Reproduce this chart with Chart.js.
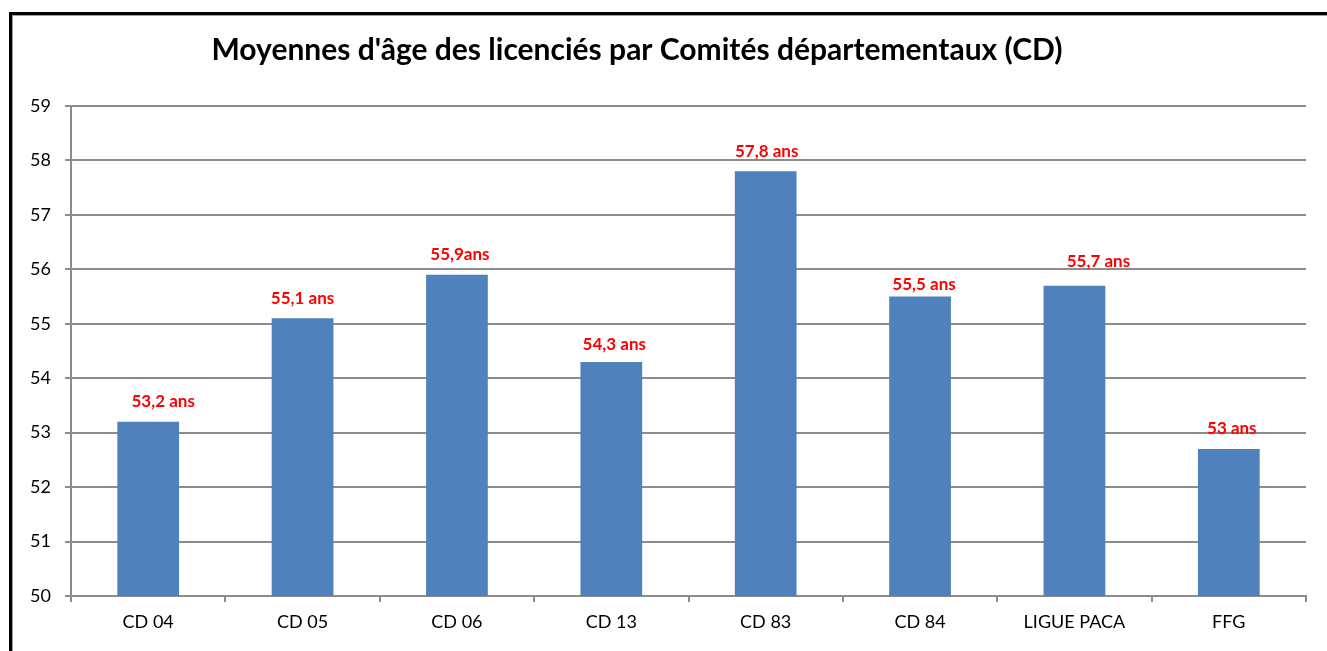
<!DOCTYPE html>
<html>
<head>
<meta charset="utf-8">
<script src="https://cdn.jsdelivr.net/npm/chart.js@4.4.0/dist/chart.umd.min.js"></script>
<style>
  html, body { margin: 0; padding: 0; background: #fff; overflow: hidden; }
  #frame {
    position: absolute; left: 9px; top: 12px; width: 1400px; height: 700px;
    border: 3px solid #000; box-sizing: border-box;
  }
  #frame div { position: absolute; left: 0; top: 0; right: 0; bottom: 0; border: 1px solid #a0a0a0; }
  #wrap { position: absolute; left: 0; top: 0; width: 1327px; height: 651px; }
</style>
</head>
<body>
<div id="frame"><div></div></div>
<div id="wrap"><canvas id="ageChart" width="1327" height="651"></canvas></div>
<script>
// categories and values
const comites = ['CD 04', 'CD 05', 'CD 06', 'CD 13', 'CD 83', 'CD 84', 'LIGUE PACA', 'FFG'];
const moyennes = [53.2, 55.1, 55.9, 54.3, 57.8, 55.5, 55.7, 52.7];
const etiquettes = ['53,2 ans', '55,1 ans', '55,9ans', '54,3 ans', '57,8 ans', '55,5 ans', '55,7 ans', '53 ans'];
const yTicks = [50, 51, 52, 53, 54, 55, 56, 57, 58, 59];

const titre = "Moyennes d'âge des licenciés par Comités départementaux (CD)";
const police = 'Lato, "Open Sans", sans-serif';

// small nudges so the red labels sit where Excel put them
const decalX = [15, 0, 3, 3, 1, 4, 24, 3];
const decalY = [0, 0, 0, 3, 0, 8, -4, 0];

const titrePlugin = {
  id: 'titreManuel',
  afterDraw(chart) {
    const ctx = chart.ctx;
    ctx.save();
    ctx.font = 'bold 30px ' + police;
    ctx.fillStyle = '#000';
    ctx.textAlign = 'center';
    ctx.textBaseline = 'middle';
    ctx.fillText(titre, 637, 50);
    ctx.restore();
  }
};

const etiquettesPlugin = {
  id: 'etiquettes',
  afterDatasetsDraw(chart) {
    const ctx = chart.ctx;
    const meta = chart.getDatasetMeta(0);
    ctx.save();
    ctx.font = 'bold 17px ' + police;
    ctx.fillStyle = '#ff0000';
    ctx.textAlign = 'center';
    ctx.textBaseline = 'middle';
    meta.data.forEach((bar, i) => {
      ctx.fillText(etiquettes[i], bar.x + decalX[i], bar.y - 20 + decalY[i]);
    });
    ctx.restore();
  }
};

const ctx = document.getElementById('ageChart').getContext('2d');
new Chart(ctx, {
  type: 'bar',
  data: {
    labels: comites,
    datasets: [{
      data: moyennes,
      backgroundColor: '#4f81bd',
      borderWidth: 0,
      barPercentage: 0.4,
      categoryPercentage: 1
    }]
  },
  options: {
    responsive: false,
    animation: false,
    events: [],
    layout: { padding: { left: 0, top: 106, right: 21, bottom: 0 } },
    plugins: { legend: { display: false }, tooltip: { enabled: false }, title: { display: false } },
    scales: {
      x: {
        grid: { drawOnChartArea: false, offset: true, tickLength: 6, color: '#8c8c8c', lineWidth: 2 },
        border: { color: '#8c8c8c', width: 2 },
        ticks: { color: '#000', font: { family: police, size: 18 }, padding: 9, maxRotation: 0 },
        afterFit(s) { s.height = 55; }
      },
      y: {
        min: 50,
        max: 59,
        afterBuildTicks(s) { s.ticks = yTicks.map(v => ({ value: v })); },
        grid: { color: '#8c8c8c', lineWidth: 2, tickLength: 6 },
        border: { color: '#8c8c8c', width: 2 },
        ticks: { color: '#000', font: { family: police, size: 18 }, padding: 14 },
        afterFit(s) { s.width = 71; }
      }
    }
  },
  plugins: [titrePlugin, etiquettesPlugin]
});
</script>
</body>
</html>
